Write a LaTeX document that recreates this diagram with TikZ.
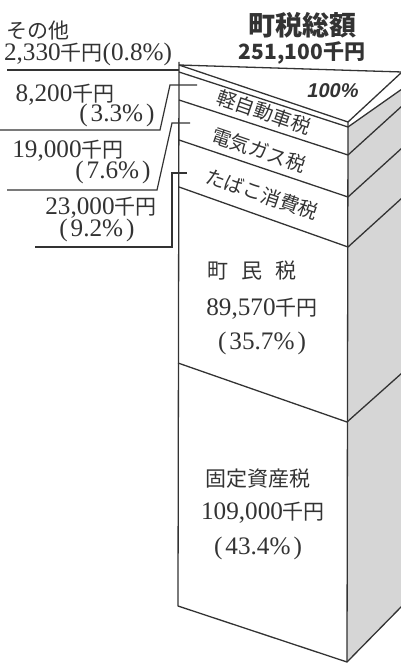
\documentclass[tikz,border=0pt]{standalone}
\usepackage{fontspec}
\setmainfont{Liberation Serif}[Scale=1.2]
\newfontfamily\jp{Noto Sans CJK JP}
\newfontfamily\ttlsans{Liberation Sans}
\newcommand\J[1]{{\jp #1}}
\newcommand\pp[1]{(\hspace{0.12em}#1\hspace{0.12em})}
\definecolor{ink}{HTML}{333333}
\definecolor{sideface}{HTML}{D6D6D6}
\tikzset{
  edge/.style={draw=ink, line width=1.3pt, line join=round},
  leader/.style={draw=ink, line width=1.2pt, line join=miter},
  lbl/.style={inner sep=0pt, text=ink, text height=0.8em, text depth=0.08em, font=\fontsize{21}{23}\selectfont},
  band/.style={lbl, rotate=-19, font=\fontsize{19.5}{21}\selectfont},
  ttl/.style={inner sep=0pt, text=ink}
}
\begin{document}
\begin{tikzpicture}[x=1pt,y=-1pt]
\useasboundingbox (0,0) rectangle (401,663);
% corners
\coordinate (TL) at (179,65);
\coordinate (TB) at (402,72);
\coordinate (TF) at (348,122);
\coordinate (BL) at (178,606);
\coordinate (BF) at (347,662);
\coordinate (BR) at (402,606);
% band boundaries: left / front / right
\coordinate (L0) at (179,72);  \coordinate (F0) at (348,127); \coordinate (R0) at (402,89);
\coordinate (L1) at (179,100); \coordinate (F1) at (348,155); \coordinate (R1) at (402,106);
\coordinate (L2) at (179,140); \coordinate (F2) at (348,197); \coordinate (R2) at (402,148);
\coordinate (L3) at (179,187); \coordinate (F3) at (348,247); \coordinate (R3) at (402,198);
\coordinate (L4) at (178,363); \coordinate (F4) at (347,422); \coordinate (R4) at (402,373);
% side face
\fill[sideface] (F0) -- (R0) -- (BR) -- (BF) -- cycle;
% outline
\draw[edge] (TL) -- (TB);
\draw[edge] (TL) -- (TF) -- (TB);
\draw[edge] (179,62) -- (BL) -- (BF) -- (BR);
\draw[edge] (TF) -- (BF);
\draw[edge] (L0) -- (F0) -- (R0);
\draw[edge] (L1) -- (F1) -- (R1);
\draw[edge] (L2) -- (F2) -- (R2);
\draw[edge] (L3) -- (F3) -- (R3);
\draw[edge] (L4) -- (F4) -- (R4);
% title
\node[ttl, font=\jp\bfseries\fontsize{27}{29}\selectfont] (title) at (302,25) {町税総額};
\node[ttl, font=\jp\bfseries\fontsize{21}{23}\selectfont] (total) at (302,53) {251,100千円};
\node[ttl, font=\ttlsans\bfseries\itshape\fontsize{20}{22}\selectfont] (hund) at (333,91) {100\%};
% band labels
\node[band] (kei) at (263,115) {\J{軽自動車税}};
\node[band] (den) at (258,153) {\J{電気ガス税}};
\node[band] (tab) at (261,197) {\J{たばこ消費税}};
% inner labels
\node[lbl] (cho1) at (252,274) {\J{町}\hspace{13pt}\J{民}\hspace{13pt}\J{税}};
\node[lbl] (cho2) at (262,311) {89,570\J{千円}};
\node[lbl] (cho3) at (262,345) {\pp{35.7\%}};
\node[lbl] (kot1) at (258,482) {\J{固定資産税}};
\node[lbl] (kot2) at (263,515) {109,000\J{千円}};
\node[lbl] (kot3) at (258,550) {\pp{43.4\%}};
% left labels
\node[lbl] (so1) at (38,34) {\J{その他}};
\node[lbl] (so2) at (88,56) {2,330\J{千円}(0.8\%)};
\node[lbl] (a1) at (65,97) {8,200\J{千円}};
\node[lbl] (a2) at (117,117) {\pp{3.3\%}};
\node[lbl] (b1) at (68,153) {19,000\J{千円}};
\node[lbl] (b2) at (113,174) {\pp{7.6\%}};
\node[lbl] (c1) at (101,210) {23,000\J{千円}};
\node[lbl] (c2) at (97,232) {\pp{9.2\%}};
% leaders
\coordinate (s0) at (7,70);
\draw[leader] (s0) -- (L0 |- s0);
\coordinate (a0) at (0,130); \coordinate (ak) at (160,130);
\coordinate (at) at (170,85); \coordinate (ae) at (197,85);
\draw[leader] (a0) -- (ak) -- (at) -- (ae);
\coordinate (b0) at (7,190); \coordinate (bk) at (157,190);
\coordinate (bt) at (172,123); \coordinate (be) at (190,123);
\draw[leader] (b0) -- (bk) -- (bt) -- (be);
\coordinate (c0) at (35,247); \coordinate (ck) at (172,247);
\coordinate (ct) at (172,173); \coordinate (ce) at (187,173);
\draw[leader] (c0) -- (ck) -- (ct) -- (ce);
\end{tikzpicture}
\end{document}
